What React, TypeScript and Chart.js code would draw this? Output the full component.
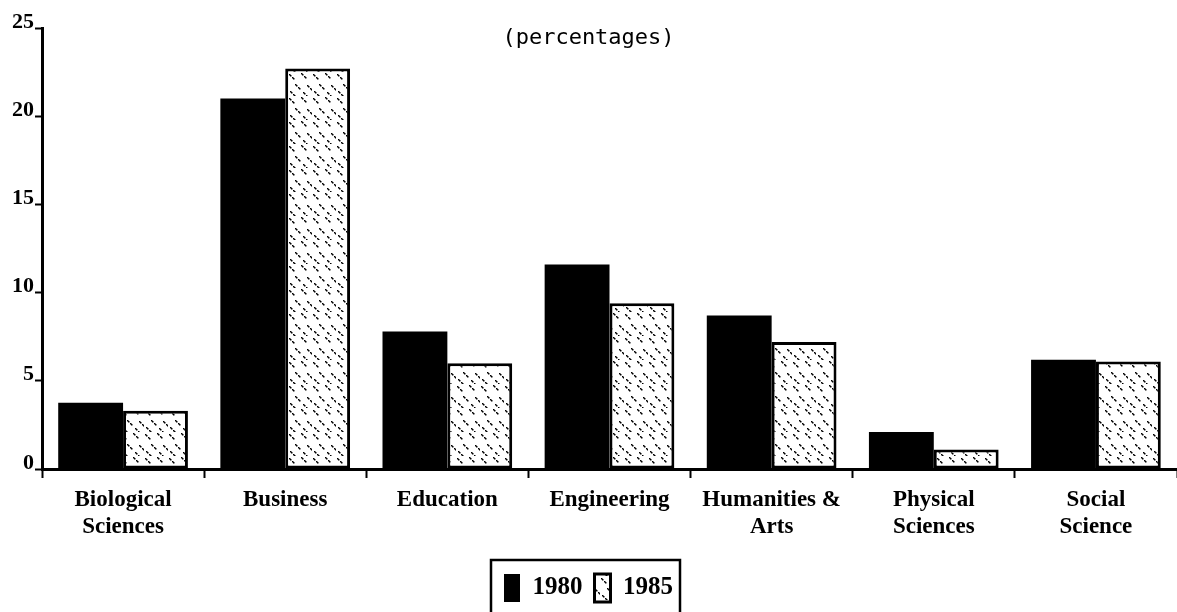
import React, { useEffect, useRef } from "react";
import { Chart, registerables } from "chart.js";

Chart.register(...registerables);

const categories: string[][] = [
  ["Biological", "Sciences"],
  ["Business"],
  ["Education"],
  ["Engineering"],
  ["Humanities &", "Arts"],
  ["Physical", "Sciences"],
  ["Social", "Science"],
];
const values1980: number[] = [3.75, 21.0, 7.8, 11.6, 8.7, 2.1, 6.2];
const values1985: number[] = [3.3, 22.7, 6.0, 9.4, 7.2, 1.1, 6.1];
const yTicks: number[] = [0, 5, 10, 15, 20, 25];
const seriesLabels: string[] = ["1980", "1985"];
const titleText = "(percentages)";

function makeStipple(): CanvasPattern | string {
  const c = document.createElement("canvas");
  c.width = 24;
  c.height = 24;
  const ctx = c.getContext("2d");
  if (!ctx) return "#fff";
  ctx.fillStyle = "#ffffff";
  ctx.fillRect(0, 0, 24, 24);
  ctx.fillStyle = "#000000";
  const dots: [number, number][] = [
    [1, 2], [4, 5], [13, 1], [16, 4], [7, 12], [10, 15],
    [19, 13], [22, 16], [2, 19], [5, 22], [15, 20], [18, 23],
  ];
  for (const [x, y] of dots) {
    ctx.fillRect(x, y, 1.5, 1.5);
    ctx.fillRect(x + 1, y + 1, 1.5, 1.5);
  }
  const p = ctx.createPattern(c, "repeat");
  return p || "#fff";
}

const legendBox = {
  id: "legendBox",
  afterDraw(chart: any) {
    const lg = chart.legend;
    if (!lg || !lg.legendHitBoxes || !lg.legendHitBoxes.length) return;
    const boxes = lg.legendHitBoxes;
    let l = Infinity, r = -Infinity, t = Infinity;
    for (const b of boxes) {
      l = Math.min(l, b.left);
      r = Math.max(r, b.left + b.width);
      t = Math.min(t, b.top);
    }
    const ctx = chart.ctx;
    ctx.save();
    ctx.strokeStyle = "#000";
    ctx.lineWidth = 2.5;
    ctx.strokeRect(l - 13, t - 14, r - l + 20, chart.height - t + 20);
    ctx.restore();
  },
};

export default function App() {
  const ref = useRef<HTMLCanvasElement | null>(null);
  useEffect(() => {
    if (!ref.current) return;
    const stipple = makeStipple();
    const chart = new Chart(ref.current, {
      type: "bar",
      data: {
        labels: categories,
        datasets: [
          {
            label: seriesLabels[0],
            data: values1980,
            backgroundColor: "#000",
            borderColor: "#000",
            borderWidth: 0,
            categoryPercentage: 0.8,
            barPercentage: 1.0,
          },
          {
            label: seriesLabels[1],
            data: values1985,
            backgroundColor: stipple as any,
            borderColor: "#000",
            borderWidth: 3,
            borderSkipped: false,
            categoryPercentage: 0.8,
            barPercentage: 1.0,
          },
        ],
      },
      options: {
        animation: false,
        responsive: false,
        maintainAspectRatio: false,
        layout: { padding: { top: 28, left: 0, right: 0, bottom: 0 } },
        plugins: {
          title: { display: false },
          tooltip: { enabled: false },
          legend: {
            display: true,
            position: "bottom",
            labels: {
              color: "#000",
              boxWidth: 16,
              boxHeight: 28,
              padding: 12,
              font: { family: "'Liberation Serif', 'Times New Roman', serif", size: 25, weight: "bold" },
            },
          },
        },
        scales: {
          x: {
            grid: {
              display: true,
              drawOnChartArea: false,
              drawTicks: true,
              tickLength: 9,
              tickWidth: 2,
              tickColor: "#000",
              offset: true,
            },
            border: { display: true, color: "#000", width: 3 },
            ticks: {
              color: "#000",
              padding: 8,
              maxRotation: 0,
              autoSkip: false,
              font: { family: "'Liberation Serif', 'Times New Roman', serif", size: 23, weight: "bold", lineHeight: 1.18 },
            },
            afterFit(scale: any) {
              scale.height = 93;
            },
          },
          y: {
            min: 0,
            max: 25,
            afterBuildTicks(scale: any) {
              scale.ticks = yTicks.map((v) => ({ value: v }));
            },
            grid: {
              display: true,
              drawOnChartArea: false,
              drawTicks: true,
              tickLength: 7,
              tickWidth: 2,
              tickColor: "#000",
            },
            border: { display: true, color: "#000", width: 3 },
            ticks: {
              color: "#000",
              padding: 1,
              labelOffset: -6,
              font: { family: "'Liberation Serif', 'Times New Roman', serif", size: 22, weight: "bold" },
            },
            afterFit(scale: any) {
              scale.width = 42;
            },
          },
        },
      },
      plugins: [legendBox],
    });
    return () => chart.destroy();
  }, []);
  return (
    <div style={{ position: "fixed", left: 0, top: 0, width: 1177, height: 612, background: "#fff" }}>
      <canvas ref={ref} width={1177} height={612} style={{ display: "block" }} />
      <div
        style={{
          position: "absolute",
          left: 0,
          width: 1177,
          top: 22,
          textAlign: "center",
          fontFamily: "'DejaVu Sans Mono', monospace",
          fontSize: 22,
          color: "#000",
          lineHeight: "30px",
        }}
      >
        {titleText}
      </div>
    </div>
  );
}
